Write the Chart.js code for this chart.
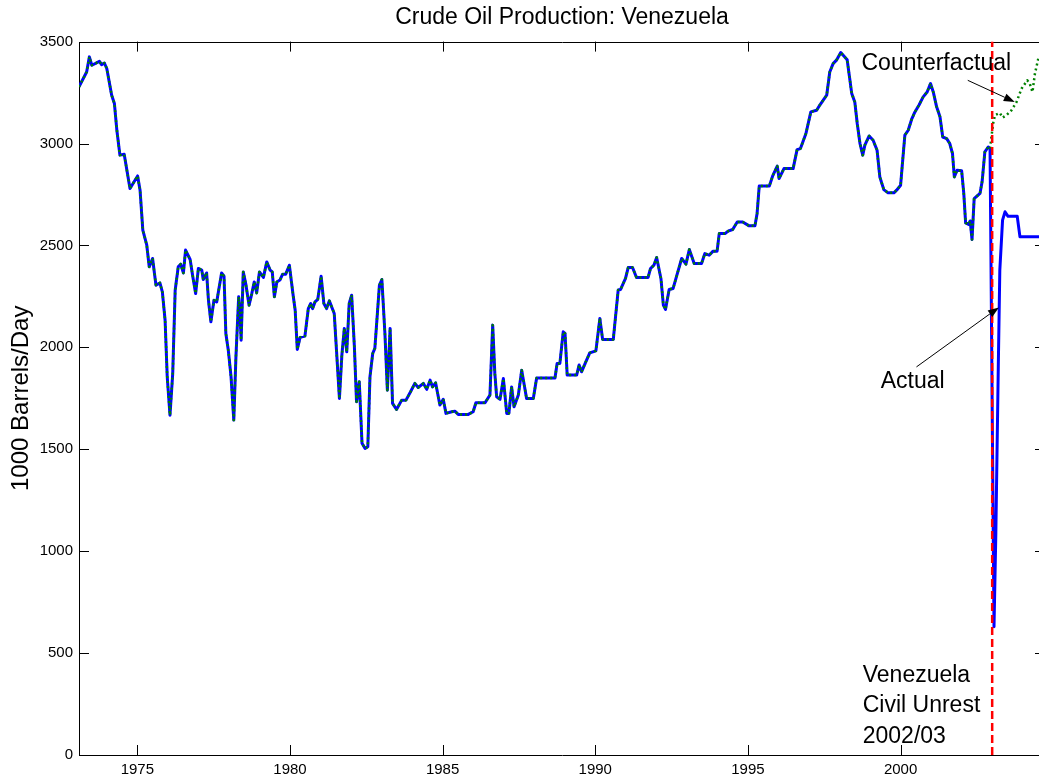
<!DOCTYPE html>
<html>
<head>
<meta charset="utf-8">
<title>Crude Oil Production: Venezuela</title>
<script src="https://cdn.jsdelivr.net/npm/chart.js@4"></script>
<style>
  html, body { margin: 0; padding: 0; background: #fff; overflow: hidden; }
  canvas { display: block; }
</style>
</head>
<body>
<canvas id="oilChart" width="1050" height="783"></canvas>
<script>
// monthly production, 1000 barrels/day
const histYears = [
  1973.09, 1973.34, 1973.43, 1973.51, 1973.76, 1973.83, 1973.92, 1974.00, 1974.16, 1974.25,
  1974.33, 1974.43, 1974.57, 1974.76, 1975.01, 1975.09, 1975.18, 1975.31, 1975.39, 1975.50,
  1975.61, 1975.74, 1975.82, 1975.91, 1975.98, 1976.07, 1976.16, 1976.24, 1976.34, 1976.42,
  1976.51, 1976.58, 1976.73, 1976.81, 1976.91, 1977.00, 1977.11, 1977.16, 1977.27, 1977.33,
  1977.41, 1977.51, 1977.60, 1977.76, 1977.84, 1977.90, 1977.98, 1978.07, 1978.16, 1978.23,
  1978.32, 1978.36, 1978.40, 1978.47, 1978.56, 1978.66, 1978.75, 1978.83, 1978.91, 1979.00,
  1979.13, 1979.24, 1979.35, 1979.42, 1979.49, 1979.57, 1979.67, 1979.76, 1979.86, 1979.98,
  1980.11, 1980.17, 1980.24, 1980.33, 1980.49, 1980.60, 1980.68, 1980.74, 1980.82, 1980.91,
  1981.02, 1981.11, 1981.20, 1981.29, 1981.45, 1981.53, 1981.62, 1981.70, 1981.78, 1981.86,
  1981.94, 1982.02, 1982.11, 1982.18, 1982.27, 1982.36, 1982.46, 1982.55, 1982.62, 1982.71,
  1982.78, 1982.93, 1983.01, 1983.11, 1983.19, 1983.28, 1983.36, 1983.49, 1983.66, 1983.80,
  1983.95, 1984.09, 1984.20, 1984.37, 1984.48, 1984.59, 1984.67, 1984.77, 1984.91, 1985.02,
  1985.11, 1985.30, 1985.40, 1985.51, 1985.84, 1986.00, 1986.09, 1986.39, 1986.55, 1986.64,
  1986.71, 1986.77, 1986.88, 1986.99, 1987.10, 1987.17, 1987.26, 1987.34, 1987.48, 1987.59,
  1987.75, 1987.97, 1988.08, 1988.68, 1988.75, 1988.84, 1988.95, 1989.01, 1989.08, 1989.39,
  1989.47, 1989.55, 1989.69, 1989.82, 1990.02, 1990.15, 1990.24, 1990.59, 1990.75, 1990.83,
  1990.99, 1991.08, 1991.22, 1991.35, 1991.73, 1991.81, 1991.92, 1992.01, 1992.15, 1992.23,
  1992.30, 1992.42, 1992.55, 1992.72, 1992.83, 1992.97, 1993.08, 1993.24, 1993.48, 1993.59,
  1993.73, 1993.86, 1993.99, 1994.06, 1994.25, 1994.35, 1994.50, 1994.65, 1994.83, 1995.04,
  1995.23, 1995.30, 1995.37, 1995.70, 1995.81, 1995.96, 1996.02, 1996.18, 1996.48, 1996.61,
  1996.72, 1996.90, 1997.06, 1997.25, 1997.36, 1997.58, 1997.68, 1997.79, 1997.90, 1998.04,
  1998.12, 1998.25, 1998.40, 1998.50, 1998.58, 1998.67, 1998.76, 1998.83, 1998.97, 1999.10,
  1999.23, 1999.32, 1999.45, 1999.59, 1999.78, 1999.87, 2000.00, 2000.06, 2000.14, 2000.25,
  2000.36, 2000.47, 2000.60, 2000.74, 2000.87, 2000.98, 2001.07, 2001.18, 2001.29, 2001.38,
  2001.51, 2001.61, 2001.70, 2001.76, 2001.85, 2002.00, 2002.07, 2002.13, 2002.23, 2002.28,
  2002.34, 2002.41, 2002.60, 2002.67, 2002.76, 2002.87, 2002.93
];
const histValues = [
  3278, 3351, 3425, 3384, 3403, 3387, 3395, 3368, 3237, 3196,
  3065, 2943, 2947, 2779, 2841, 2771, 2575, 2501, 2395, 2436,
  2305, 2316, 2272, 2133, 1855, 1667, 1872, 2280, 2395, 2408,
  2365, 2477, 2431, 2354, 2264, 2387, 2379, 2333, 2365, 2231,
  2125, 2231, 2223, 2365, 2349, 2068, 1986, 1855, 1643, 1953,
  2248, 2183, 2035, 2370, 2305, 2207, 2264, 2321, 2267, 2370,
  2343, 2419, 2379, 2370, 2248, 2321, 2330, 2359, 2359, 2403,
  2248, 2183, 1990, 2049, 2055, 2190, 2215, 2190, 2223, 2235,
  2349, 2215, 2190, 2228, 2166, 1970, 1749, 1962, 2093, 1978,
  2215, 2256, 2002, 1733, 1831, 1529, 1504, 1512, 1855, 1970,
  1995, 2305, 2333, 2068, 1790, 2093, 1725, 1695, 1741, 1741,
  1782, 1823, 1803, 1823, 1794, 1839, 1806, 1826, 1717, 1745,
  1676, 1684, 1687, 1671, 1671, 1684, 1728, 1728, 1766, 2109,
  1872, 1757, 1745, 1847, 1676, 1676, 1806, 1708, 1766, 1888,
  1749, 1749, 1850, 1850, 1921, 1921, 2076, 2068, 1864, 1864,
  1913, 1880, 1929, 1973, 1983, 2142, 2039, 2039, 2281, 2284,
  2338, 2392, 2392, 2343, 2343, 2387, 2403, 2441, 2338, 2207,
  2186, 2284, 2289, 2379, 2436, 2408, 2480, 2411, 2411, 2460,
  2452, 2472, 2472, 2558, 2558, 2570, 2578, 2615, 2615, 2596,
  2596, 2657, 2791, 2791, 2841, 2889, 2828, 2877, 2877, 2970,
  2975, 3049, 3155, 3163, 3190, 3237, 3351, 3392, 3409, 3446,
  3433, 3411, 3245, 3204, 3098, 3000, 2943, 2992, 3037, 3016,
  2967, 2836, 2774, 2758, 2758, 2771, 2795, 2901, 3041, 3065,
  3118, 3155, 3188, 3229, 3253, 3294, 3253, 3180, 3131, 3032,
  3024, 3000, 2951, 2836, 2869, 2866, 2755, 2611, 2603, 2620,
  2529, 2730, 2755, 2812, 2959, 2983, 2975
];

// after the unrest: what happened vs the model path
const actualYears = [2003.06, 2003.12, 2003.20, 2003.25, 2003.34, 2003.42, 2003.52, 2003.82, 2003.91, 2004.73];
const actualValues = [629, 1089, 1904, 2379, 2624, 2665, 2643, 2643, 2542, 2542];

const counterYears = [2002.95, 2003.03, 2003.09, 2003.25, 2003.34, 2003.47, 2003.63, 2003.80, 2003.96, 2004.15, 2004.23, 2004.32, 2004.40, 2004.51];
const counterValues = [3000, 3098, 3139, 3150, 3127, 3139, 3163, 3204, 3269, 3310, 3294, 3253, 3343, 3416];

const eventYear = 2003.0;

const xTicks = [1975, 1980, 1985, 1990, 1995, 2000];
const yTicks = [0, 500, 1000, 1500, 2000, 2500, 3000, 3500];

const X_MIN = 1973.09, X_MAX = 2004.73;
const Y_MIN = 0, Y_MAX = 3500;

function toPoints(xs, ys) {
    return xs.map((x, i) => ({ x: x, y: ys[i] }));
}

const histPoints = toPoints(histYears, histValues);
const actualPoints = histPoints.concat(toPoints(actualYears, actualValues));
const counterPoints = histPoints.concat(toPoints(counterYears, counterValues));
const eventPoints = [{ x: eventYear, y: Y_MIN }, { x: eventYear, y: Y_MAX }];

const FONT = "'Liberation Sans', Arial, Helvetica, sans-serif";
const TICK = 10;

// matlab style box, ticks pointing inwards on all four sides
const boxPlugin = {
    id: "boxPlugin",
    beforeDatasetsDraw(chart) {
        const { ctx, chartArea: a, scales } = chart;
        ctx.save();
        ctx.strokeStyle = "#000";
        ctx.lineWidth = 1;
        ctx.beginPath();
        ctx.rect(Math.round(a.left) + 0.5, Math.round(a.top) + 0.5,
                 Math.round(a.right) - Math.round(a.left), Math.round(a.bottom) - Math.round(a.top));
        xTicks.forEach(v => {
            const px = Math.round(scales.x.getPixelForValue(v)) + 0.5;
            ctx.moveTo(px, a.bottom);
            ctx.lineTo(px, a.bottom - TICK);
            ctx.moveTo(px, a.top);
            ctx.lineTo(px, a.top + TICK);
        });
        yTicks.forEach(v => {
            const py = Math.round(scales.y.getPixelForValue(v)) + 0.5;
            ctx.moveTo(a.left, py);
            ctx.lineTo(a.left + TICK, py);
            ctx.moveTo(a.right, py);
            ctx.lineTo(a.right - TICK, py);
        });
        ctx.stroke();
        ctx.restore();
    }
};

// text labels and arrows, placed in data units
const notes = [
    { text: "Counterfactual", x: 1998.72, y: 3359, from: [2002.20, 3310], to: [2003.74, 3204] },
    { text: "Actual", x: 1999.35, y: 1800, from: [2000.52, 1904], to: [2003.22, 2196] }
];
const eventLabel = { lines: ["Venezuela", "Civil Unrest", "2002/03"], x: 1998.76, y: 359, lineGap: 30.5 };

function drawArrow(ctx, x1, y1, x2, y2) {
    const ang = Math.atan2(y2 - y1, x2 - x1);
    const len = 11, half = 4;
    ctx.beginPath();
    ctx.moveTo(x1, y1);
    ctx.lineTo(x2 - len * Math.cos(ang), y2 - len * Math.sin(ang));
    ctx.stroke();
    ctx.beginPath();
    ctx.moveTo(x2, y2);
    ctx.lineTo(x2 - len * Math.cos(ang) + half * Math.sin(ang), y2 - len * Math.sin(ang) - half * Math.cos(ang));
    ctx.lineTo(x2 - len * Math.cos(ang) - half * Math.sin(ang), y2 - len * Math.sin(ang) + half * Math.cos(ang));
    ctx.closePath();
    ctx.fill();
}

const notePlugin = {
    id: "notePlugin",
    afterDatasetsDraw(chart) {
        const { ctx, scales: { x, y } } = chart;
        ctx.save();
        ctx.fillStyle = "#000";
        ctx.strokeStyle = "#000";
        ctx.lineWidth = 1;
        ctx.font = "23px " + FONT;
        ctx.textAlign = "left";
        ctx.textBaseline = "alphabetic";
        notes.forEach(n => {
            ctx.fillText(n.text, x.getPixelForValue(n.x), y.getPixelForValue(n.y));
            drawArrow(ctx,
                x.getPixelForValue(n.from[0]), y.getPixelForValue(n.from[1]),
                x.getPixelForValue(n.to[0]), y.getPixelForValue(n.to[1]));
        });
        const lx = x.getPixelForValue(eventLabel.x);
        const ly = y.getPixelForValue(eventLabel.y);
        eventLabel.lines.forEach((t, i) => {
            ctx.fillText(t, lx, ly + i * eventLabel.lineGap);
        });
        ctx.restore();
    }
};

Chart.defaults.font.family = FONT;
Chart.defaults.color = "#000";

new Chart(document.getElementById("oilChart"), {
    type: "line",
    data: {
        datasets: [
            {
                label: "Unrest",
                data: eventPoints,
                borderColor: "#ff0000",
                borderWidth: 2.5,
                borderDash: [8, 4],
                pointRadius: 0,
                order: 0
            },
            {
                label: "Counterfactual",
                data: counterPoints,
                borderColor: "#008000",
                borderWidth: 2.5,
                borderDash: [2, 3],
                borderJoinStyle: "round",
                pointRadius: 0,
                order: 1
            },
            {
                label: "Actual",
                data: actualPoints,
                borderColor: "#0000ff",
                borderWidth: 3,
                borderJoinStyle: "round",
                pointRadius: 0,
                order: 2
            }
        ]
    },
    options: {
        responsive: false,
        animation: false,
        devicePixelRatio: 1,
        layout: { padding: { left: 0, top: 0, right: 5, bottom: 0 } },
        plugins: {
            legend: { display: false },
            tooltip: { enabled: false },
            title: {
                display: true,
                text: "Crude Oil Production: Venezuela",
                fullSize: false,
                font: { size: 23, weight: "normal" },
                padding: { top: 4, bottom: 10 },
                color: "#000"
            }
        },
        scales: {
            x: {
                type: "linear",
                min: X_MIN,
                max: X_MAX,
                grid: { display: false, drawTicks: false },
                border: { display: false },
                afterBuildTicks: scale => { scale.ticks = xTicks.map(v => ({ value: v })); },
                afterFit: scale => { scale.height = 28; },
                ticks: {
                    font: { size: 15 },
                    padding: 6,
                    maxRotation: 0,
                    autoSkip: false,
                    callback: v => String(v)
                }
            },
            y: {
                type: "linear",
                min: Y_MIN,
                max: Y_MAX,
                grid: { display: false, drawTicks: false },
                border: { display: false },
                afterBuildTicks: scale => { scale.ticks = yTicks.map(v => ({ value: v })); },
                afterFit: scale => { scale.width = 79; },
                ticks: {
                    font: { size: 15 },
                    padding: 6,
                    autoSkip: false,
                    callback: v => String(v)
                },
                title: {
                    display: true,
                    text: "1000 Barrels/Day",
                    font: { size: 24 },
                    padding: { top: 7, bottom: 0 },
                    color: "#000"
                }
            }
        }
    },
    plugins: [boxPlugin, notePlugin]
});
</script>
</body>
</html>
